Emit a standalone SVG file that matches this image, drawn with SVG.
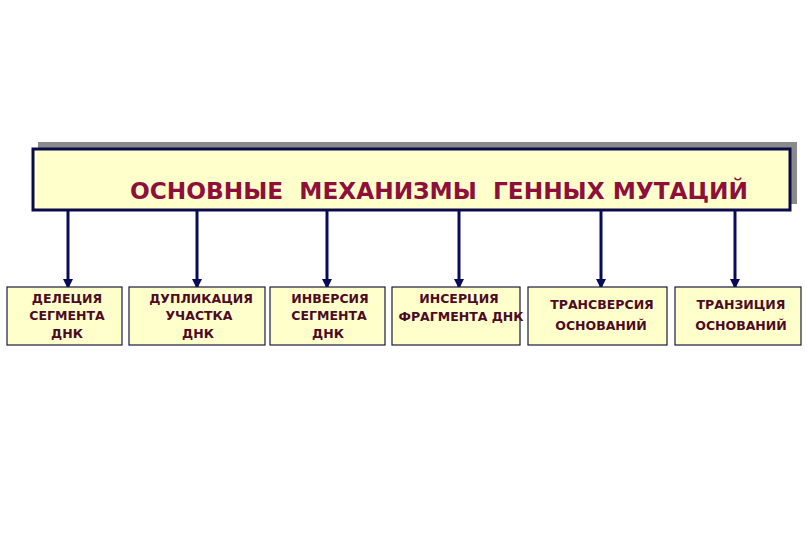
<svg xmlns="http://www.w3.org/2000/svg" width="810" height="540" viewBox="0 0 810 540">
<defs>
<style>
.box{fill:#FFFFCC;stroke:#1a1a40;stroke-width:1.2}
.t{font-family:"DejaVu Sans","Liberation Sans",sans-serif;font-weight:bold;font-size:12.5px;fill:#4d0a22;text-anchor:middle}
.title{font-family:"DejaVu Sans","Liberation Sans",sans-serif;font-weight:bold;font-size:23px;fill:#8e0f3a;white-space:pre}
.con{stroke:#0a0a5a;stroke-width:3;fill:none}
</style>
<marker id="ah" viewBox="0 0 10 10" refX="9" refY="5" markerWidth="3.4" markerHeight="3.6" orient="auto" markerUnits="strokeWidth">
<path d="M0,0 L10,5 L0,10 z" fill="#0a0a5a"/>
</marker>
</defs>
<rect width="810" height="540" fill="#ffffff"/>
<g id="main">
<rect x="38" y="142" width="759" height="62" fill="#8a8a8a"/>
<rect x="33" y="149" width="757" height="61" fill="#FFFFCC" stroke="#0a0a4a" stroke-width="3"/>
<text class="title" xml:space="preserve" x="130" y="199" textLength="618" lengthAdjust="spacingAndGlyphs">ОСНОВНЫЕ  МЕХАНИЗМЫ  ГЕННЫХ МУТАЦИЙ</text>
</g>
<g id="connectors">
<line class="con" x1="68" y1="211" x2="68" y2="288" marker-end="url(#ah)"/>
<line class="con" x1="197" y1="211" x2="197" y2="288" marker-end="url(#ah)"/>
<line class="con" x1="327" y1="211" x2="327" y2="288" marker-end="url(#ah)"/>
<line class="con" x1="459" y1="211" x2="459" y2="288" marker-end="url(#ah)"/>
<line class="con" x1="601" y1="211" x2="601" y2="288" marker-end="url(#ah)"/>
<line class="con" x1="735" y1="211" x2="735" y2="288" marker-end="url(#ah)"/>
</g>
<g id="n1">
<rect class="box" x="7" y="287" width="115" height="58"/>
<text class="t" x="67" y="303">ДЕЛЕЦИЯ</text>
<text class="t" x="67" y="320">СЕГМЕНТА</text>
<text class="t" x="67" y="338">ДНК</text>
</g>
<g id="n2">
<rect class="box" x="129" y="287" width="136" height="58"/>
<text class="t" x="201" y="303">ДУПЛИКАЦИЯ</text>
<text class="t" x="199" y="320">УЧАСТКА</text>
<text class="t" x="198" y="338">ДНК</text>
</g>
<g id="n3">
<rect class="box" x="270" y="287" width="115" height="58"/>
<text class="t" x="330" y="303">ИНВЕРСИЯ</text>
<text class="t" x="329" y="320">СЕГМЕНТА</text>
<text class="t" x="328" y="338">ДНК</text>
</g>
<g id="n4">
<rect class="box" x="392" y="287" width="128" height="58"/>
<text class="t" x="459" y="303">ИНСЕРЦИЯ</text>
<text class="t" x="461" y="321">ФРАГМЕНТА ДНК</text>
</g>
<g id="n5">
<rect class="box" x="528" y="287" width="139" height="58"/>
<text class="t" x="602" y="309">ТРАНСВЕРСИЯ</text>
<text class="t" x="601" y="330">ОСНОВАНИЙ</text>
</g>
<g id="n6">
<rect class="box" x="675" y="287" width="126" height="58"/>
<text class="t" x="741" y="309">ТРАНЗИЦИЯ</text>
<text class="t" x="741" y="330">ОСНОВАНИЙ</text>
</g>
</svg>
